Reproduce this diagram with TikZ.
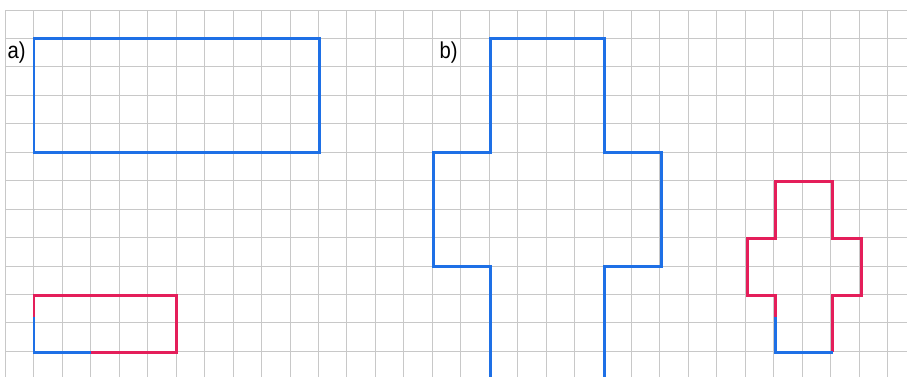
\documentclass[tikz,border=0pt]{standalone}
\usepackage{fontspec}
\setmainfont{Liberation Sans}
\definecolor{shapeblue}{RGB}{30,112,230}
\definecolor{shapered}{RGB}{228,30,90}
\definecolor{gridgray}{RGB}{200,200,200}
\begin{document}
\begin{tikzpicture}[x=1pt,y=-1pt,
  gridline/.style={draw=gridgray, line width=1pt},
  blueline/.style={draw=shapeblue, line width=2.8pt, line join=miter},
  redline/.style={draw=shapered, line width=2.8pt, line join=miter},
  lbl/.style={font=\fontsize{23}{23}\selectfont, xscale=0.88, inner sep=0pt}]
\useasboundingbox (0,0) rectangle (907,376);
\fill[white] (0,0) rectangle (907,376);
\begin{scope}[shift={(5.5,10)}, x=28.53pt, y=-28.53pt]
  \clip (-0.1,-0.1) rectangle (31.6,12.85);
  \draw[gridline] (0,0) grid (32,13);
  % a) rectangle
  \draw[blueline] (1,1) rectangle (11,5);
  % a) small rectangle
  \draw[redline] (1,10.75) -- (1,10) -- (6,10) -- (6,12) -- (3,12);
  \draw[blueline] (3,12) -- (1,12) -- (1,10.75);
  % b) cross
  \draw[blueline] (17,13) -- (17,9) -- (15,9) -- (15,5) -- (17,5) -- (17,1)
     -- (21,1) -- (21,5) -- (23,5) -- (23,9) -- (21,9) -- (21,13);
  % b) small cross
  \draw[redline] (27,10.75) -- (27,10) -- (26,10) -- (26,8) -- (27,8) -- (27,6)
     -- (29,6) -- (29,8) -- (30,8) -- (30,10) -- (29,10) -- (29,12);
  \draw[blueline] (29,12) -- (27,12) -- (27,10.75);
\end{scope}
\node[lbl] (la) at (16.5,53) {a)};
\node[lbl] (lb) at (448.5,53) {b)};
\end{tikzpicture}
\end{document}
